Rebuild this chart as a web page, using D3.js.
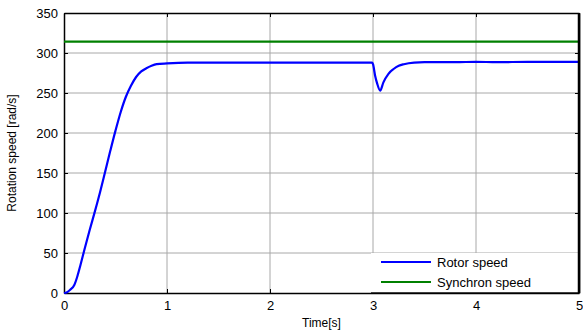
<!DOCTYPE html>
<html>
<head>
<meta charset="utf-8">
<script src="https://cdn.jsdelivr.net/npm/d3@7"></script>
<style>
  body { margin: 0; background: #fff; }
  svg { display: block; font-family: "Liberation Sans", Arial, sans-serif; }
</style>
</head>
<body>
<div id="chart"></div>
<script>
// data
const timeTicks = [0, 1, 2, 3, 4, 5];
const speedTicks = [0, 50, 100, 150, 200, 250, 300, 350];

const rotorTime = [0, 0.03, 0.06, 0.1, 0.13, 0.16, 0.2, 0.25, 0.3, 0.35, 0.4, 0.45, 0.5, 0.55, 0.6, 0.65,
  0.7, 0.75, 0.8, 0.85, 0.9, 1.0, 1.2, 1.5, 2.0, 2.5, 2.99, 3.0, 3.02, 3.04, 3.07, 3.1, 3.15, 3.2,
  3.25, 3.3, 3.4, 3.5, 3.8, 4.0, 4.2, 4.5, 4.8, 5.0];
const rotorSpeed = [0, 1, 4, 10, 21, 35, 55, 79, 102, 126, 152, 178, 203, 226, 245, 259,
  270, 277, 281, 284, 286, 287, 288, 288, 288, 288, 288, 286, 272, 262, 253, 263, 274, 280,
  284, 286, 288, 288.5, 288.5, 289, 288.5, 289, 289, 289];

const syncTime = [0, 5];
const syncSpeed = [314.16, 314.16];

const seriesNames = ["Rotor speed", "Synchron speed"];
const seriesColors = ["#0000ff", "#008000"];

const width = 583, height = 333;
const margin = { left: 64, right: 4, top: 13, bottom: 40 };
const innerW = width - margin.left - margin.right;
const innerH = height - margin.top - margin.bottom;

const svg = d3.select("#chart").append("svg")
  .attr("width", width).attr("height", height);

const g = svg.append("g").attr("transform", `translate(${margin.left},${margin.top})`);

const x = d3.scaleLinear().domain([0, 5]).range([0, innerW]);
const y = d3.scaleLinear().domain([0, 350]).range([innerH, 0]);

// grid
g.append("g").selectAll("line").data(timeTicks.slice(1, -1)).join("line")
  .attr("x1", d => x(d)).attr("x2", d => x(d))
  .attr("y1", 0).attr("y2", innerH)
  .attr("stroke", "#a8a8a8").attr("stroke-width", 1);
g.append("g").selectAll("line").data(speedTicks.slice(1, -1)).join("line")
  .attr("x1", 0).attr("x2", innerW)
  .attr("y1", d => y(d)).attr("y2", d => y(d))
  .attr("stroke", "#a8a8a8").attr("stroke-width", 1);

// axes (ticks inward)
const fmt = d3.format("d");
g.append("g").attr("transform", `translate(0,${innerH})`)
  .call(d3.axisBottom(x).tickValues(timeTicks).tickFormat(fmt).tickSizeInner(-4).tickSizeOuter(0).tickPadding(8));
g.append("g")
  .call(d3.axisLeft(y).tickValues(speedTicks).tickFormat(fmt).tickSizeInner(-4).tickSizeOuter(0).tickPadding(6));
g.append("g")
  .call(d3.axisTop(x).tickValues(timeTicks).tickSizeInner(-4).tickSizeOuter(0).tickFormat(""));
g.append("g").attr("transform", `translate(${innerW},0)`)
  .call(d3.axisRight(y).tickValues(speedTicks).tickSizeInner(-4).tickSizeOuter(0).tickFormat(""));

g.selectAll(".domain").attr("stroke", "#000").attr("stroke-width", 1.5);
g.selectAll(".tick line").attr("stroke", "#000");
g.selectAll(".tick text").attr("font-size", 13).attr("fill", "#000")
  .attr("font-family", "Liberation Sans, Arial, sans-serif");

// lines
const line = d3.line().x(d => x(d[0])).y(d => y(d[1])).curve(d3.curveMonotoneX);
g.append("path").datum(d3.zip(syncTime, syncSpeed))
  .attr("d", line).attr("fill", "none")
  .attr("stroke", seriesColors[1]).attr("stroke-width", 2.2);
g.append("path").datum(d3.zip(rotorTime, rotorSpeed))
  .attr("d", line).attr("fill", "none")
  .attr("stroke", seriesColors[0]).attr("stroke-width", 2.2)
  .attr("stroke-linejoin", "round");

// legend
const legW = 208, legH = 40;
const legend = g.append("g").attr("transform", `translate(${innerW - legW},${innerH - legH})`);
legend.append("rect").attr("width", legW).attr("height", legH).attr("fill", "#fff");
seriesNames.forEach((name, i) => {
  const ly = 9 + i * 20;
  legend.append("line").attr("x1", 10).attr("x2", 60).attr("y1", ly).attr("y2", ly)
    .attr("stroke", seriesColors[i]).attr("stroke-width", 2);
  legend.append("text").attr("x", 66).attr("y", ly + 4.5)
    .attr("font-size", 13).text(name);
});
// redraw borders on top of legend
g.append("line").attr("x1", innerW).attr("x2", innerW).attr("y1", 0).attr("y2", innerH)
  .attr("stroke", "#000").attr("stroke-width", 2.5);
g.append("line").attr("x1", innerW - legW).attr("x2", innerW).attr("y1", innerH).attr("y2", innerH)
  .attr("stroke", "#000").attr("stroke-width", 1.5);

// axis titles
svg.append("text").attr("x", margin.left + innerW / 2).attr("y", 327)
  .attr("text-anchor", "middle").attr("font-size", 12).text("Time[s]");
svg.append("text")
  .attr("transform", `translate(16,${margin.top + innerH / 2}) rotate(-90)`)
  .attr("text-anchor", "middle").attr("font-size", 12).text("Rotation speed [rad/s]");
</script>
</body>
</html>
